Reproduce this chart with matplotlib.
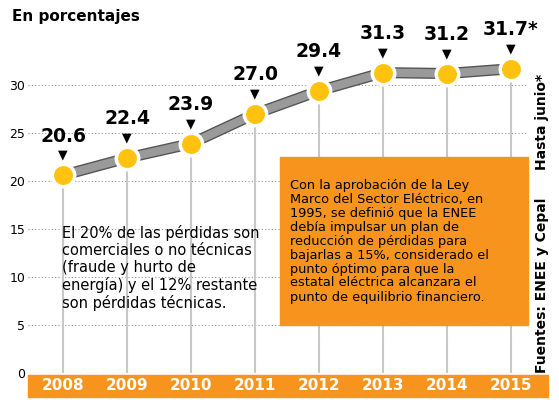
import matplotlib.pyplot as plt
from matplotlib.patches import Rectangle
import matplotlib.patheffects as pe

years = [2008, 2009, 2010, 2011, 2012, 2013, 2014, 2015]
values = [20.6, 22.4, 23.9, 27.0, 29.4, 31.3, 31.2, 31.7]
labels = ["20.6", "22.4", "23.9", "27.0", "29.4", "31.3", "31.2", "31.7*"]
yticks = [0, 5, 10, 15, 20, 25, 30]

W, H = 559, 400
fig = plt.figure(figsize=(5.59, 4), dpi=100)
ax = fig.add_axes([28/W, 1-373/H, 500/W, 334/H])
ax.set_xlim(2008-35/64, 2015+17/64)
ax.set_ylim(0, 34.8)
for s in ax.spines.values():
    s.set_visible(False)
ax.set_xticks([])
for t in yticks:
    ax.axhline(t, color='#999999', lw=0.8, ls=(0, (1, 2)), zorder=0)
ax.set_yticks(yticks)
ax.tick_params(axis='y', length=0, labelsize=9, pad=2)
ax.set_yticklabels([str(t) for t in yticks])
for x, v in zip(years, values):
    ax.plot([x, x], [0, v], color='#c8c8c8', lw=1.5, zorder=1)
ax.plot(years, values, color='#9a9a9a', lw=6, zorder=2,
        path_effects=[pe.Stroke(linewidth=8, foreground='#555555'), pe.Normal()])
ax.scatter(years, values, s=260, color='#FFC20E', edgecolor='white', linewidth=2.5, zorder=3)
for x, v, l in zip(years, values, labels):
    ax.text(x, v + 1.4, '▼', ha='center', va='bottom', fontsize=9, zorder=4)
    ax.text(x, v + 3.1, l, ha='center', va='bottom', fontsize=13.5, fontweight='bold', zorder=4)

fig.patches.append(Rectangle((28/W, 3/H), 520/W, 22/H, transform=fig.transFigure,
                             color='#F7941D', zorder=0))
for x in years:
    px = ax.transData.transform((x, 0))[0]
    fig.text(px/W, 14/H, str(x), ha='center', va='center', color='white',
             fontsize=11, fontweight='bold')

fig.text(12/W, 1-16/H, 'En porcentajes', fontsize=11, fontweight='bold', va='center')
fig.text(62/W, 1-268/H, 'El 20% de las pérdidas son\ncomerciales o no técnicas\n(fraude y hurto de\nenergía) y el 12% restante\nson pérdidas técnicas.',
         fontsize=10.5, va='center', linespacing=1.15)
fig.patches.append(Rectangle((280/W, 1-325/H), 248/W, 168/H, transform=fig.transFigure,
                             color='#F7941D', zorder=5))
fig.text(290/W, 1-241/H, 'Con la aprobación de la Ley\nMarco del Sector Eléctrico, en\n1995, se definió que la ENEE\ndebía impulsar un plan de\nreducción de pérdidas para\nbajarlas a 15%, considerado el\npunto óptimo para que la\nestatal eléctrica alcanzara el\npunto de equilibrio financiero.',
         fontsize=9.3, va='center', linespacing=1.1, zorder=6)
fig.text(542/W, 1-122/H, 'Hasta junio*', rotation=90, fontsize=10, fontweight='bold', ha='center', va='center')
fig.text(542/W, 1-285/H, 'Fuentes: ENEE y Cepal', rotation=90, fontsize=10, fontweight='bold', ha='center', va='center')
fig.savefig('out.png', dpi=100)
